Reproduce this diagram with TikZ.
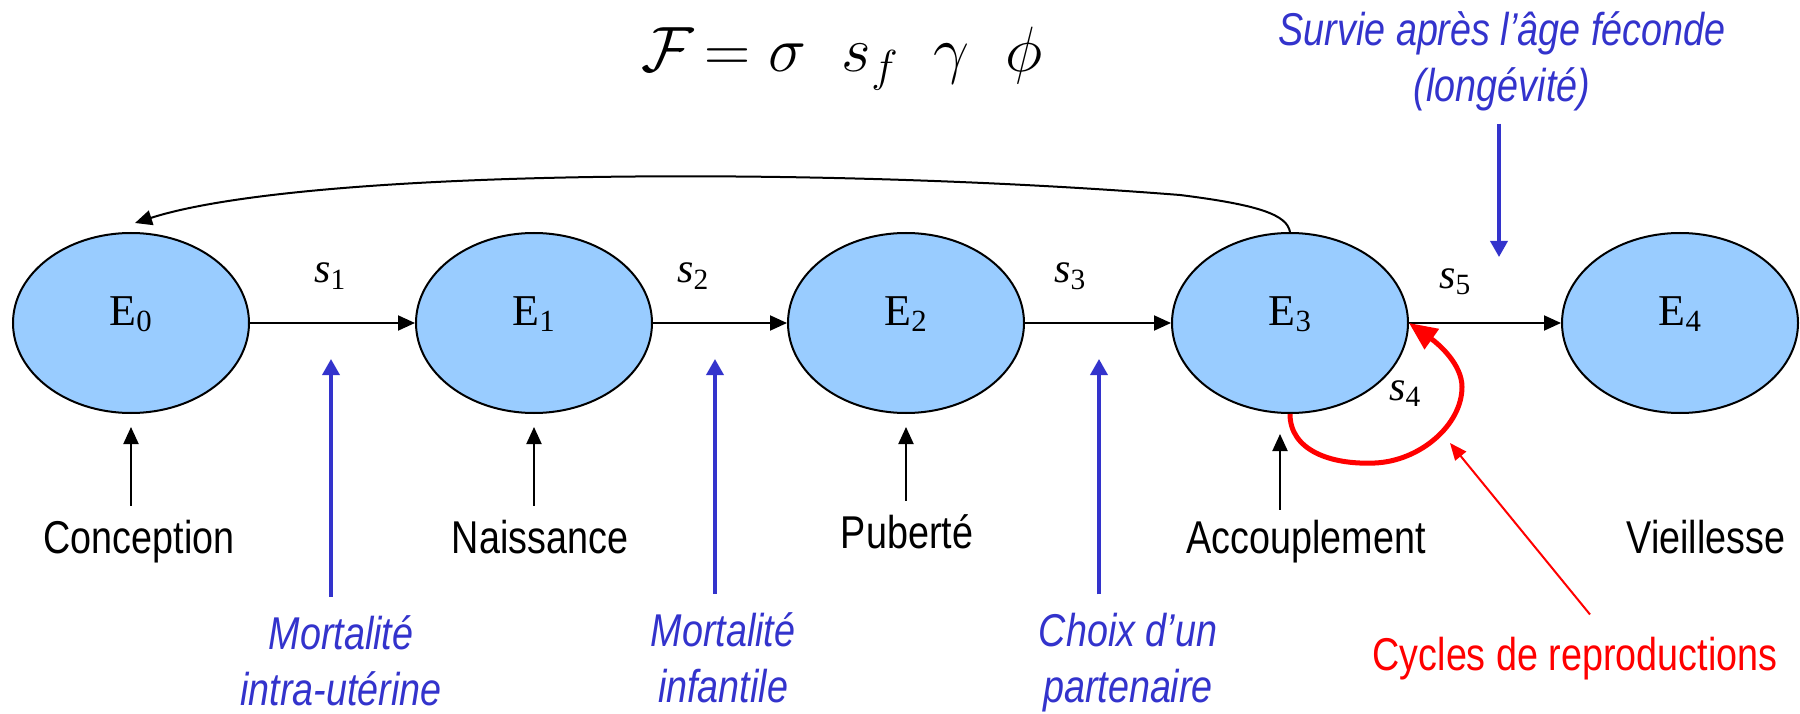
\RequirePackage{fix-cm}
\documentclass[tikz,border=0pt]{standalone}
\usepackage{fontspec}
\setmainfont{Liberation Serif}
\newfontfamily\narrowsf[FakeStretch=0.82]{Liberation Sans}
\usetikzlibrary{shapes.geometric, arrows.meta, positioning}
\definecolor{stfill}{HTML}{99CCFF}
\definecolor{noteblue}{HTML}{3333CC}
\tikzset{
  stage/.style={ellipse, draw, line width=2pt, fill=stfill, minimum width=236pt,
    minimum height=180pt, inner sep=0pt, text height=30pt, text depth=26pt,
    font=\fontsize{44}{44}\selectfont},
  trans/.style={line width=2pt, -{Triangle[length=17pt, width=15pt]}},
  event/.style={anchor=base, inner sep=2pt, text height=33pt, text depth=9pt,
    font=\narrowsf\fontsize{46}{50}\selectfont},
  cause/.style={anchor=base, align=center, inner sep=2pt, text=noteblue,
    font=\narrowsf\itshape\fontsize{46}{56}\selectfont},
  causearr/.style={draw=noteblue, line width=3.5pt, -{Triangle[length=16pt, width=17pt]}},
  prob/.style={anchor=base, inner sep=0pt, font=\fontsize{42}{42}\selectfont}
}
\newcommand{\Ei}[1]{E\textsubscript{#1}}
\newcommand{\sv}[1]{\textit{s}\textsubscript{#1}}

\begin{document}
\begin{tikzpicture}[x=1pt, y=-1pt]
  \useasboundingbox (0,0) rectangle (1800,714);
  \node[anchor=base, font=\fontsize{64}{64}\selectfont] (fitness) at (842,72)
    {$\mathcal{F}\mskip-2mu=\sigma\;\; s_f\;\; \gamma\;\; \phi$};
  %
  \node[stage] (e0) at (131,323) {\Ei{0}};
  \node[stage] (e1) at (534,323) {\Ei{1}};
  \node[stage] (e2) at (906,323) {\Ei{2}};
  \node[stage] (e3) at (1290,323) {\Ei{3}};
  \node[stage] (e4) at (1680,323) {\Ei{4}};
  \draw[trans] (e0) -- (e1);
  \draw[trans] (e1) -- (e2);
  \draw[trans] (e2) -- (e3);
  \draw[trans] (e3) -- (e4);
  \node[prob] (s1) at (330,283) {\sv{1}};
  \node[prob] (s2) at (693,283) {\sv{2}};
  \node[prob] (s3) at (1070,283) {\sv{3}};
  \node[prob] (s4) at (1405,400) {\sv{4}};
  \node[prob] (s5) at (1455,288) {\sv{5}};
  \draw[trans] (e3.north) .. controls (1287,215) and (1260,205) .. (1180,195)
    .. controls (800,165) and (300,170) .. ([shift={(4pt,9pt)}]e0.north);
  %
  \node[event] (conception) at (139,553) {Conception};
  \node[event] (naissance) at (540,553) {Naissance};
  \node[event] (puberte) at (907,548) {Puberté};
  \node[event] (accouplement) at (1306,553) {Accouplement};
  \node[event] (vieillesse) at (1706,553) {Vieillesse};
  \draw[trans, shorten <=12pt] (conception.north -| e0) -- ([yshift=-13pt]e0.south);
  \draw[trans, shorten <=12pt] (naissance.north -| e1) -- ([yshift=-13pt]e1.south);
  \draw[trans, shorten <=12pt] (puberte.north -| e2) -- ([yshift=-13pt]e2.south);
  \draw[trans, shorten <=8pt] (accouplement.north -| 1280,0) -- (1280,434);
  %
  \node[cause] (mortiu) at (341,705) {Mortalité\\intra-utérine};
  \node[cause] (mortinf) at (723,702) {Mortalité\\infantile};
  \node[cause] (choix) at (1128,702) {Choix d’un\\partenaire};
  \node[cause] (survie) at (1502,102) {Survie après l’âge féconde\\(longévité)};
  \coordinate (b1) at (331,359);
  \coordinate (b2) at (715,359);
  \coordinate (b3) at (1099,359);
  \coordinate (b5) at (1499,257);
  \draw[causearr, shorten <=16pt] (b1 |- mortiu.north) -- (b1);
  \draw[causearr, shorten <=16pt] (b2 |- mortinf.north) -- (b2);
  \draw[causearr, shorten <=16pt] (b3 |- choix.north) -- (b3);
  \draw[causearr, shorten <=10pt] (b5 |- survie.south) -- (b5);
  %
  \node[anchor=base, inner sep=2pt, text=red, font=\narrowsf\fontsize{46}{50}\selectfont]
    (cycles) at (1575,670) {Cycles de reproductions};
  \coordinate (c4) at (1450,443);
  \draw[red, line width=2pt, -{Triangle[length=17pt, width=14pt]}]
    ([shift={(15pt,20pt)}]cycles.north) -- (c4);
  \draw[red, line width=5pt, -{Triangle[length=28pt, width=24pt]}]
    (e3.south) .. controls (1290,450) and (1330,465) .. (1375,463)
    .. controls (1420,461) and (1462,425) .. (1462,387)
    .. controls (1462,365) and (1440,345) .. (e3.east);
\end{tikzpicture}
\end{document}
